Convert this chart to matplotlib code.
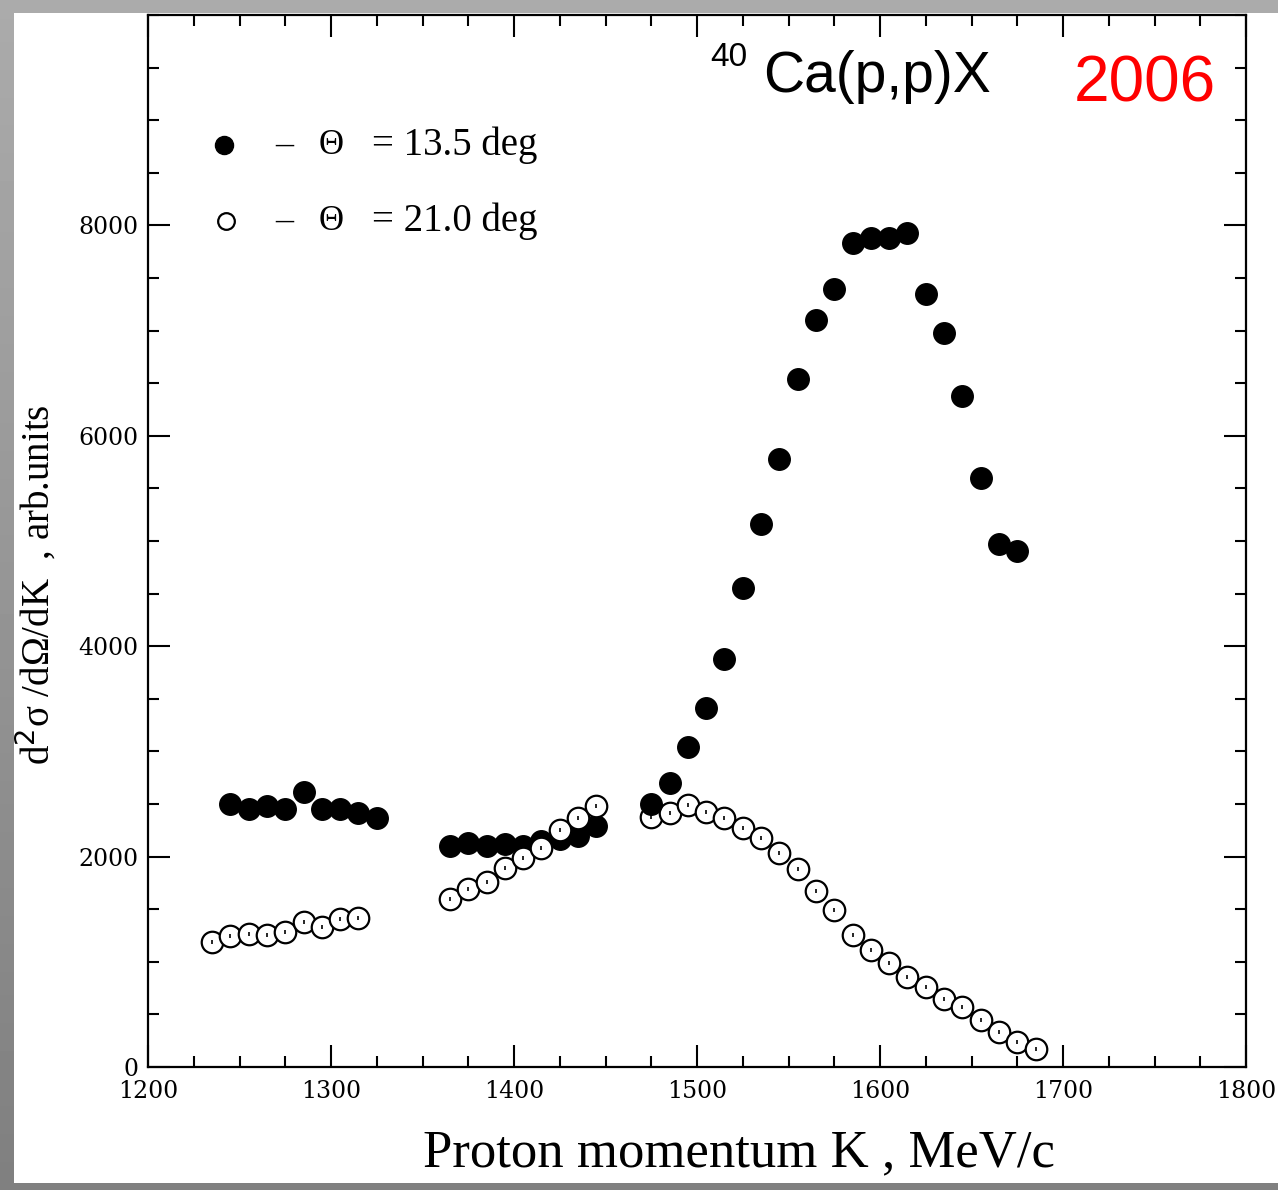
import matplotlib
matplotlib.use("Agg")
import matplotlib.pyplot as plt
import numpy as np
from matplotlib.patches import Rectangle

# ---- data ----
k_135 = [1245, 1255, 1265, 1275, 1285, 1295, 1305, 1315, 1325,
         1365, 1375, 1385, 1395, 1405, 1415, 1425, 1435, 1445,
         1475, 1485, 1495, 1505, 1515, 1525, 1535, 1545, 1555, 1565,
         1575, 1585, 1595, 1605, 1615, 1625, 1635, 1645, 1655, 1665, 1675]
s_135 = [2500, 2455, 2485, 2455, 2610, 2450, 2455, 2410, 2370,
         2100, 2130, 2105, 2120, 2105, 2150, 2170, 2200, 2290,
         2500, 2700, 3045, 3415, 3880, 4555, 5165, 5780, 6540, 7100,
         7395, 7830, 7880, 7880, 7925, 7345, 6975, 6380, 5600, 4975, 4905]

k_210 = [1235, 1245, 1255, 1265, 1275, 1285, 1295, 1305, 1315,
         1365, 1375, 1385, 1395, 1405, 1415, 1425, 1435, 1445,
         1475, 1485, 1495, 1505, 1515, 1525, 1535, 1545, 1555, 1565,
         1575, 1585, 1595, 1605, 1615, 1625, 1635, 1645, 1655, 1665,
         1675, 1685]
s_210 = [1185, 1245, 1260, 1255, 1280, 1375, 1330, 1405, 1415,
         1600, 1690, 1755, 1890, 1990, 2080, 2250, 2370, 2485,
         2375, 2410, 2495, 2420, 2365, 2270, 2175, 2030, 1880, 1670,
         1490, 1255, 1110, 985, 855, 760, 645, 570, 445, 330,
         235, 170]

x_ticks = [1200, 1300, 1400, 1500, 1600, 1700, 1800]
y_ticks = [0, 2000, 4000, 6000, 8000]

W, H = 1278, 1190
fig = plt.figure(figsize=(W / 100, H / 100), dpi=100)

# background: gray frame with vertical gradient, white panel
bg = fig.add_axes([0, 0, 1, 1], zorder=-10)
grad = np.linspace(0.67, 0.50, 256).reshape(-1, 1)
bg.imshow(grad, cmap="gray", vmin=0, vmax=1, aspect="auto",
          extent=[0, 1, 0, 1], origin="upper")
bg.add_patch(Rectangle((14 / W, (H - 1183) / H), 1 - 14 / W, (1183 - 13) / H,
                       facecolor="white", edgecolor="none"))
bg.set_xlim(0, 1)
bg.set_ylim(0, 1)
bg.axis("off")

L, R, T, B = 148, 1246, 15, 1067
ax = fig.add_axes([L / W, (H - B) / H, (R - L) / W, (B - T) / H])
ax.set_facecolor("white")
ax.set_xlim(1200, 1800)
ax.set_ylim(0, 10000)

k135 = np.array(k_135)
s135 = np.array(s_135)
k210 = np.array(k_210)
s210 = np.array(s_210)

ms = 15.5
early = k135 < 1470
ax.plot(k135[early], s135[early], "o", ms=ms, color="black", zorder=3)
ax.plot(k210, s210, "o", ms=ms, mfc="white", mec="black", mew=1.6, zorder=4)
ax.plot(k210, s210, "|", ms=3.5, color="black", mew=1.2, zorder=4.5)
ax.plot(k135[~early], s135[~early], "o", ms=ms, color="black", zorder=5)

# ticks
ax.set_xticks(x_ticks)
ax.set_yticks(y_ticks)
ax.set_xticks(np.arange(1200, 1801, 25), minor=True)
ax.set_yticks(np.arange(0, 10001, 500), minor=True)
ax.set_yticklabels([str(v) for v in y_ticks])
ax.set_xticklabels([str(v) for v in x_ticks])
ax.tick_params(which="both", direction="in", top=True, right=True, width=1.5)
ax.tick_params(which="major", length=16, labelsize=17)
ax.tick_params(which="minor", length=8)
ax.tick_params(axis="y", which="major", pad=7)
ax.tick_params(axis="x", which="major", pad=9)
for lab in ax.get_xticklabels() + ax.get_yticklabels():
    lab.set_fontfamily("DejaVu Serif")
for sp in ax.spines.values():
    sp.set_linewidth(1.6)

# axis labels
fig.text(739 / W, (H - 1153) / H, "Proton momentum K , MeV/c",
         family="Liberation Serif", fontsize=38, ha="center", va="center")
fig.text(36 / W, (H - 585) / H, r"d$^{2}$σ /dΩ/dK  , arb.units",
         family="Liberation Serif", fontsize=28, rotation=90,
         ha="center", va="center")

def axf(px, py):
    return (px - L) / (R - L), (B - py) / (B - T)

# legend
for (mx, my), filled, txt in [((224, 145), True, "= 13.5 deg"),
                              ((226, 221), False, "= 21.0 deg")]:
    fx, fy = axf(mx, my)
    if filled:
        ax.plot([fx], [fy], "o", ms=13, color="black", transform=ax.transAxes,
                clip_on=False)
    else:
        ax.plot([fx], [fy], "o", ms=12, mfc="white", mec="black", mew=1.6,
                transform=ax.transAxes, clip_on=False)
    dx, _ = axf(284, my)
    ax.text(dx, fy, "–", transform=ax.transAxes, family="Liberation Serif",
            fontsize=26, ha="center", va="center")
    tx, _ = axf(331, my)
    ax.text(tx, fy, "Θ", transform=ax.transAxes, family="Liberation Serif",
            fontsize=25, ha="center", va="center")
    ex, _ = axf(372, my)
    ax.text(ex, fy, txt, transform=ax.transAxes, family="Liberation Serif",
            fontsize=28, ha="left", va="center")

# title and year
x1, y1 = axf(710, 57)
ax.text(x1, y1, "40", transform=ax.transAxes, family="Liberation Sans",
        fontsize=24, ha="left", va="center")
x2, y2 = axf(763, 92)
ax.text(x2, y2, "Ca(p,p)X", transform=ax.transAxes, family="Liberation Sans",
        fontsize=41, ha="left", va="baseline")
x3, y3 = axf(1074, 102)
ax.text(x3, y3, "2006", transform=ax.transAxes, family="Liberation Sans",
        fontsize=46, ha="left", va="baseline", color="#ff0000")

fig.savefig("out.png", dpi=100)
